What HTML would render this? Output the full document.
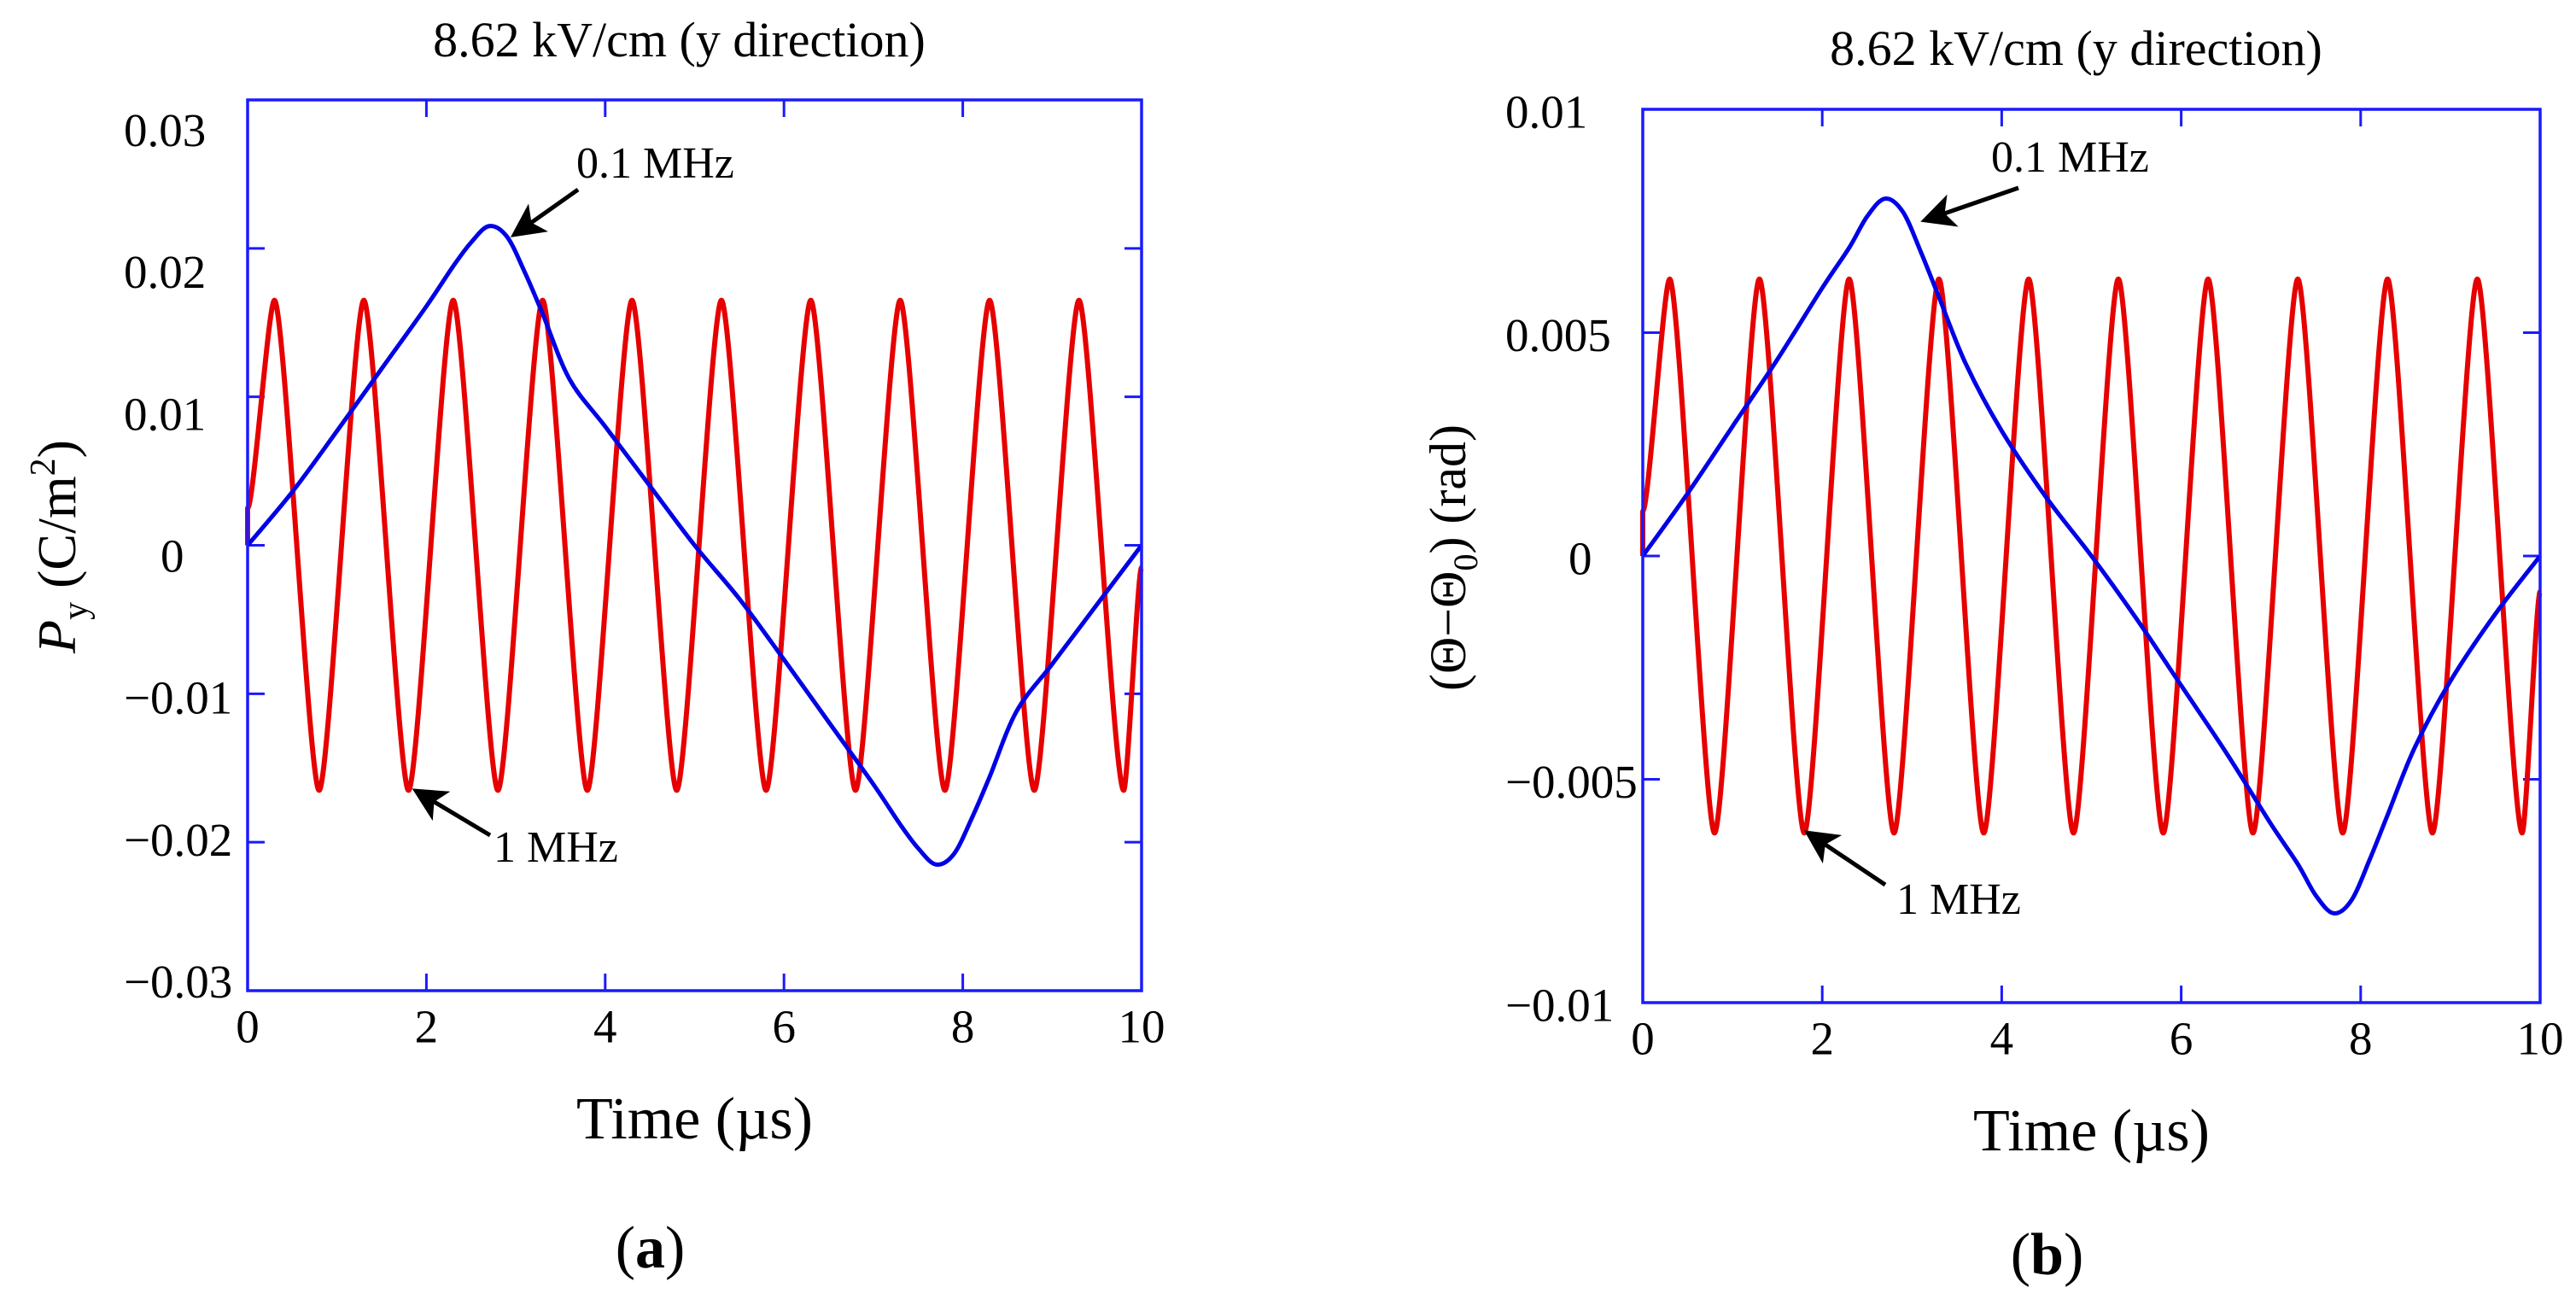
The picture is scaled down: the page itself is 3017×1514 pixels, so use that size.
<!DOCTYPE html>
<html><head><meta charset="utf-8"><style>
html,body{margin:0;padding:0;background:#fff;}
svg{display:block;}
text{font-family:"Liberation Serif",serif;fill:#000;}
</style></head><body>
<svg id="chart" width="3017" height="1514" viewBox="0 0 3017 1514" xmlns="http://www.w3.org/2000/svg">
<defs>
<marker id="ah" markerWidth="8" markerHeight="8" refX="7" refY="4" orient="auto" markerUnits="strokeWidth">
<path d="M0,0 L8,4 L0,8 L2,4 z" fill="#000"/>
</marker>
</defs>
<g id="panelA"></g>
<g id="panelB"></g>
<text x="88" y="640" transform="rotate(-90 88 640)" text-anchor="middle" font-size="64"><tspan font-style="italic">P</tspan><tspan font-size="42" dy="14">y</tspan><tspan dy="-14"> (C/m</tspan><tspan font-size="42" dy="-24">2</tspan><tspan dy="24">)</tspan></text>
<text x="1716" y="653" transform="rotate(-90 1716 653)" text-anchor="middle" font-size="60">(Θ−Θ<tspan font-size="40" dy="14">0</tspan><tspan dy="-14">) (rad)</tspan></text>
</svg>
<script>
// ---- data ----
const timeTicks = [0, 2, 4, 6, 8, 10];
const leftYTicks = [0.03, 0.02, 0.01, 0, -0.01, -0.02, -0.03];
const leftYLabels = ["0.03", "0.02", "0.01", "0", "\u22120.01", "\u22120.02", "\u22120.03"];
const rightYTicks = [0.01, 0.005, 0, -0.005, -0.01];
const rightYLabels = ["0.01", "0.005", "0", "\u22120.005", "\u22120.01"];

// 1 MHz series (extrema)
const redTimes = [0, 0, 0.3, 0.8, 1.3, 1.8, 2.3, 2.8, 3.3, 3.8, 4.3, 4.8, 5.3, 5.8, 6.3, 6.8, 7.3, 7.8, 8.3, 8.8, 9.3, 9.8, 10];
const redLeftValues = [0, 0.0025, 0.0165, -0.0165, 0.0165, -0.0165, 0.0165, -0.0165, 0.0165, -0.0165, 0.0165, -0.0165, 0.0165, -0.0165, 0.0165, -0.0165, 0.0165, -0.0165, 0.0165, -0.0165, 0.0165, -0.0165, -0.0015];
const redRightValues = [0, 0.001, 0.0062, -0.0062, 0.0062, -0.0062, 0.0062, -0.0062, 0.0062, -0.0062, 0.0062, -0.0062, 0.0062, -0.0062, 0.0062, -0.0062, 0.0062, -0.0062, 0.0062, -0.0062, 0.0062, -0.0062, -0.0008];

// 0.1 MHz series
const blueTimes = [0, 0.5, 1, 1.5, 2, 2.3, 2.5, 2.7, 2.9, 3.1, 3.3, 3.6, 4, 4.5, 5, 5.5, 6, 6.5, 7, 7.3, 7.5, 7.7, 7.9, 8.1, 8.3, 8.6, 9, 9.5, 10];
const blueLeftValues = [0, 0.0036, 0.0077, 0.0119, 0.0161, 0.0188, 0.0204, 0.0215, 0.0208, 0.0184, 0.0156, 0.0112, 0.0080, 0.0040, 0, -0.0036, -0.0077, -0.0119, -0.0161, -0.0188, -0.0204, -0.0215, -0.0208, -0.0184, -0.0156, -0.0112, -0.0080, -0.0040, 0];
const blueRightValues = [0, 0.0014, 0.0029, 0.0044, 0.0060, 0.0069, 0.0076, 0.0080, 0.0077, 0.0068, 0.0058, 0.0043, 0.0028, 0.0013, 0, -0.0014, -0.0029, -0.0044, -0.0060, -0.0069, -0.0076, -0.0080, -0.0077, -0.0068, -0.0058, -0.0043, -0.0028, -0.0013, 0];

const NS = "http://www.w3.org/2000/svg";
function mk(parent, tag, attrs, txt) {
  const e = document.createElementNS(NS, tag);
  for (const k in attrs) e.setAttribute(k, attrs[k]);
  if (txt !== undefined) e.textContent = txt;
  parent.appendChild(e);
  return e;
}

function drawPanel(g, cfg) {
  const xS = t => cfg.x0 + (t - 0) / 10 * (cfg.x1 - cfg.x0);
  const yS = v => cfg.yT + (cfg.yMax - v) / (2 * cfg.yMax) * (cfg.yB - cfg.yT);
  const blue = "#1a1aff";

  const title = mk(g, "text", {x: (cfg.x0 + cfg.x1) / 2 - 18, y: cfg.titleY, "text-anchor": "middle", "font-size": 58}, "8.62 kV/cm (y direction)");
  
  

  timeTicks.forEach(t => {
    if (t > 0 && t < 10) {
      const a = mk(g, "line", {x1: xS(t), x2: xS(t), y1: cfg.yB, y2: cfg.yB - 20, stroke: blue, "stroke-width": 3});
      
      
      const b = mk(g, "line", {x1: xS(t), x2: xS(t), y1: cfg.yT, y2: cfg.yT + 20, stroke: blue, "stroke-width": 3});
      
      
    }
    const lb = mk(g, "text", {x: xS(t), y: cfg.yB + 42, "text-anchor": "middle", "dominant-baseline": "central", "font-size": 55}, String(t));
    
    
  });
  cfg.yTicks.forEach((v, i) => {
    if (i > 0 && i < cfg.yTicks.length - 1) {
      const a = mk(g, "line", {x1: cfg.x0, x2: cfg.x0 + 20, y1: yS(v), y2: yS(v), stroke: blue, "stroke-width": 3});
      
      
      const b = mk(g, "line", {x1: cfg.x1, x2: cfg.x1 - 20, y1: yS(v), y2: yS(v), stroke: blue, "stroke-width": 3});
      
      
    }
    const cy = cfg.labelCenter(yS(v));
    const isZero = v === 0;
    const lb = mk(g, "text", {x: isZero ? cfg.zeroX : cfg.labelX, y: cy, "text-anchor": "start", "dominant-baseline": "central", "font-size": 55}, cfg.yLabels[i]);
    
    
  });

  // red series (1 MHz)
  let d = "";
  cfg.redT.forEach((t, i) => {
    const x = xS(t), y = yS(cfg.redV[i]);
    if (i === 0) { d += "M" + x + "," + y; return; }
    const px = xS(cfg.redT[i - 1]), py = yS(cfg.redV[i - 1]);
    const dx = (x - px) * 0.22;
    d += " C" + (px + dx) + "," + py + " " + (x - dx) + "," + y + " " + x + "," + y;
  });
  const red = mk(g, "path", {d: d, fill: "none", stroke: "#e60000", "stroke-width": 6, "stroke-linejoin": "round"});
  
  

  // blue series (0.1 MHz) - Catmull-Rom smoothing through data points
  const P = cfg.blueT.map((t, i) => [xS(t), yS(cfg.blueV[i])]);
  let bd = "M" + P[0][0] + "," + P[0][1];
  for (let i = 0; i < P.length - 1; i++) {
    const p0 = P[Math.max(0, i - 1)], p1 = P[i], p2 = P[i + 1], p3 = P[Math.min(P.length - 1, i + 2)];
    const c1 = [p1[0] + (p2[0] - p0[0]) / 6, p1[1] + (p2[1] - p0[1]) / 6];
    const c2 = [p2[0] - (p3[0] - p1[0]) / 6, p2[1] - (p3[1] - p1[1]) / 6];
    bd += " C" + c1[0] + "," + c1[1] + " " + c2[0] + "," + c2[1] + " " + p2[0] + "," + p2[1];
  }
  const bl = mk(g, "path", {d: bd, fill: "none", stroke: "#0000e6", "stroke-width": 5, "stroke-linejoin": "round"});
  
  

  const fr = mk(g, "rect", {x: cfg.x0, y: cfg.yT, width: cfg.x1 - cfg.x0, height: cfg.yB - cfg.yT, fill: "none", stroke: blue, "stroke-width": 3.5});
  
  

  const t1 = mk(g, "text", {x: cfg.a1.tx, y: cfg.a1.ty, "font-size": 52}, "0.1 MHz");
  
  
  const l1 = mk(g, "line", {x1: cfg.a1.x1, y1: cfg.a1.y1, x2: cfg.a1.x2, y2: cfg.a1.y2, stroke: "#000", "stroke-width": 5, "marker-end": "url(#ah)"});
  
  
  const t2 = mk(g, "text", {x: cfg.a2.tx, y: cfg.a2.ty, "font-size": 52}, "1 MHz");
  
  
  const l2 = mk(g, "line", {x1: cfg.a2.x1, y1: cfg.a2.y1, x2: cfg.a2.x2, y2: cfg.a2.y2, stroke: "#000", "stroke-width": 5, "marker-end": "url(#ah)"});
  
  

  const xt = mk(g, "text", {x: (cfg.x0 + cfg.x1) / 2, y: cfg.xTitleY, "text-anchor": "middle", "font-size": 70}, "Time (\u00b5s)");
  
  

  const pl = mk(g, "text", {x: (cfg.x0 + cfg.x1) / 2 - 52, y: cfg.letterY, "text-anchor": "middle", "font-size": 70}, "");
  mk(pl, "tspan", {}, "(");
  mk(pl, "tspan", {"font-weight": "bold"}, cfg.letter);
  mk(pl, "tspan", {}, ")");
  
  
}

drawPanel(document.getElementById("panelA"), {
  x0: 290, x1: 1337, yT: 117, yB: 1160, yMax: 0.03,
  yTicks: leftYTicks, yLabels: leftYLabels,
  labelX: 145, zeroX: 188,
  labelCenter: y => 651 + (y - 638.5) * 0.956,
  titleY: 66, xTitleY: 1333, letterY: 1484, letter: "a",
  redT: redTimes, redV: redLeftValues, blueT: blueTimes, blueV: blueLeftValues,
  a1: {tx: 675, ty: 208, x1: 677, y1: 222, x2: 602, y2: 275},
  a2: {tx: 578, ty: 1009, x1: 574, y1: 978, x2: 487, y2: 926}
});
drawPanel(document.getElementById("panelB"), {
  x0: 1924, x1: 2975, yT: 128, yB: 1174, yMax: 0.01,
  yTicks: rightYTicks, yLabels: rightYLabels,
  labelX: 1763, zeroX: 1837,
  labelCenter: y => y + 3,
  titleY: 76, xTitleY: 1347, letterY: 1492, letter: "b",
  redT: redTimes, redV: redRightValues, blueT: blueTimes, blueV: blueRightValues,
  a1: {tx: 2332, ty: 201, x1: 2364, y1: 220, x2: 2254, y2: 258},
  a2: {tx: 2221, ty: 1070, x1: 2208, y1: 1036, x2: 2117, y2: 975}
});
</script>
</body></html>
